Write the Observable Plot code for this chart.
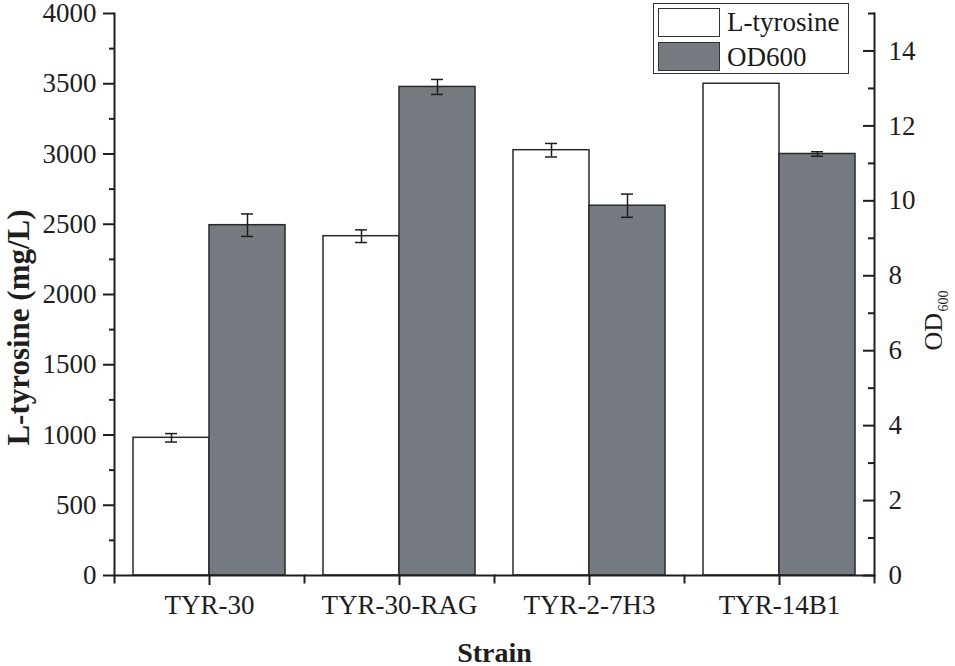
<!DOCTYPE html>
<html>
<head>
<meta charset="utf-8">
<script src="https://cdn.jsdelivr.net/npm/d3@7"></script>
<script src="https://cdn.jsdelivr.net/npm/@observablehq/plot@0.6"></script>
<style>
  body { margin: 0; background: #fff; }
  #wrap { position: relative; width: 955px; height: 666px; font-family: "Liberation Serif", "Times New Roman", serif; color: #1a1a1a; }
  #legend { position: absolute; left: 653px; top: 3px; width: 196px; height: 71px; box-sizing: border-box; border: 1.5px solid #333; background: #fff; }
  .sw { position: absolute; left: 3.5px; width: 62px; height: 29px; box-sizing: border-box; border: 1.5px solid #333; }
  .lab { position: absolute; left: 73px; font-size: 27px; line-height: 30px; white-space: nowrap; }
</style>
</head>
<body>
<div id="wrap">
  <div id="chart"></div>
  <div id="legend"></div>
</div>
<script>
// ---- data ----
const strains = ["TYR-30", "TYR-30-RAG", "TYR-2-7H3", "TYR-14B1"];
const series = ["L-tyrosine", "OD600"];
const tyrosine = [980, 2415, 3027, 3500];        // mg/L
const tyrosineErr = [30, 45, 48, 0];
const od600 = [9.35, 13.04, 9.87, 11.25];
const od600Err = [0.30, 0.20, 0.31, 0.06];
const leftTicks = [0, 500, 1000, 1500, 2000, 2500, 3000, 3500, 4000];
const leftMinor = [250, 750, 1250, 1750, 2250, 2750, 3250, 3750];
const rightTicks = [0, 2, 4, 6, 8, 10, 12, 14];
const rightMinor = [1, 3, 5, 7, 9, 11, 13, 15];
const seriesColors = ["#ffffff", "#767b81"];

// ---- build table ----
const leftMax = 4000, rightMax = 15;
const k = leftMax / rightMax;
const rows = [];
strains.forEach((s, i) => {
  rows.push({strain: s, series: series[0], y: tyrosine[i], err: tyrosineErr[i]});
  rows.push({strain: s, series: series[1], y: od600[i] * k, err: od600Err[i] * k});
});
const errRows = rows.filter(d => d.err > 0).map(d => ({...d, lo: d.y - d.err, hi: d.y + d.err}));

const ink = "#1e1e1e";
const plot = Plot.plot({
  width: 955, height: 666,
  marginLeft: 113, marginRight: 80, marginTop: 13, marginBottom: 91,
  style: {fontFamily: "Liberation Serif, Times New Roman, serif", fontSize: "27px", color: ink, background: "white", overflow: "visible"},
  fx: {domain: strains, padding: 0},
  x: {domain: series, paddingInner: 0, paddingOuter: 0.24, axis: null},
  y: {domain: [0, leftMax]},
  color: {domain: series, range: seriesColors},
  marks: [
    Plot.barY(rows, {fx: "strain", x: "series", y: "y", fill: "series", stroke: "#2a2a2a", strokeWidth: 1.5}),
    Plot.ruleX(errRows, {fx: "strain", x: "series", y1: "lo", y2: "hi", stroke: ink, strokeWidth: 1.5}),
    Plot.tickY(errRows, {fx: "strain", x: "series", y: "lo", inset: 32, stroke: ink, strokeWidth: 1.5}),
    Plot.tickY(errRows, {fx: "strain", x: "series", y: "hi", inset: 32, stroke: ink, strokeWidth: 1.5}),
    Plot.ruleY([0], {stroke: ink, strokeWidth: 2}),
    Plot.frame({facet: "super", anchor: "left", stroke: ink, strokeWidth: 2}),
    Plot.frame({facet: "super", anchor: "right", stroke: ink, strokeWidth: 2}),
    Plot.frame({anchor: "left", insetTop: 562, insetBottom: -7, stroke: ink, strokeWidth: 2}),
    Plot.frame({facet: "super", anchor: "right", insetTop: 562, insetBottom: -7, stroke: ink, strokeWidth: 2}),
    Plot.axisY(leftTicks, {anchor: "left", tickSize: 11, tickPadding: 7, strokeWidth: 2, fontSize: 27, tickFormat: d => String(d), label: null}),
    Plot.axisY(leftMinor, {anchor: "left", tickSize: 5, strokeWidth: 2, tickFormat: () => "", label: null}),
    Plot.axisY(rightTicks.map(v => v * k), {anchor: "right", tickSize: 0, tickPadding: 14, fontSize: 27, tickFormat: d => String(Math.round(d / k)), label: null}),
    Plot.axisY(rightTicks.map(v => v * k), {anchor: "right", tickSize: -12, strokeWidth: 2, tickFormat: () => "", label: null}),
    Plot.axisY(rightMinor.map(v => v * k), {anchor: "right", tickSize: -7, strokeWidth: 2, tickFormat: () => "", label: null}),
    Plot.axisFx({anchor: "bottom", tickSize: 10, tickPadding: 9, strokeWidth: 2, fontSize: 27, label: null}),
    Plot.text(["L-tyrosine (mg/L)"], {facet: "super", frameAnchor: "left", dx: -95, dy: 33, rotate: -90, textAnchor: "middle", lineAnchor: "middle", fontSize: 31, fontWeight: "bold", fill: ink}),
    Plot.text(["Strain"], {facet: "super", frameAnchor: "bottom", dy: 86, textAnchor: "middle", lineAnchor: "bottom", fontSize: 28, fontWeight: "bold", fill: ink}),
    Plot.text(["OD"], {facet: "super", frameAnchor: "right", dx: 67, dy: 56, rotate: -90, textAnchor: "start", lineAnchor: "bottom", fontSize: 26, fill: ink}),
    Plot.text(["600"], {facet: "super", frameAnchor: "right", dx: 73, dy: 17, rotate: -90, textAnchor: "start", lineAnchor: "bottom", fontSize: 14, fill: ink})
  ]
});
document.getElementById("chart").appendChild(plot);

// ---- legend ----
const legend = document.getElementById("legend");
series.forEach((s, i) => {
  const sw = document.createElement("div");
  sw.className = "sw";
  sw.style.top = (3.5 + i * 34) + "px";
  sw.style.background = seriesColors[i];
  legend.appendChild(sw);
  const lab = document.createElement("div");
  lab.className = "lab";
  lab.style.top = (2.5 + i * 35) + "px";
  lab.textContent = s;
  legend.appendChild(lab);
});
</script>
</body>
</html>
